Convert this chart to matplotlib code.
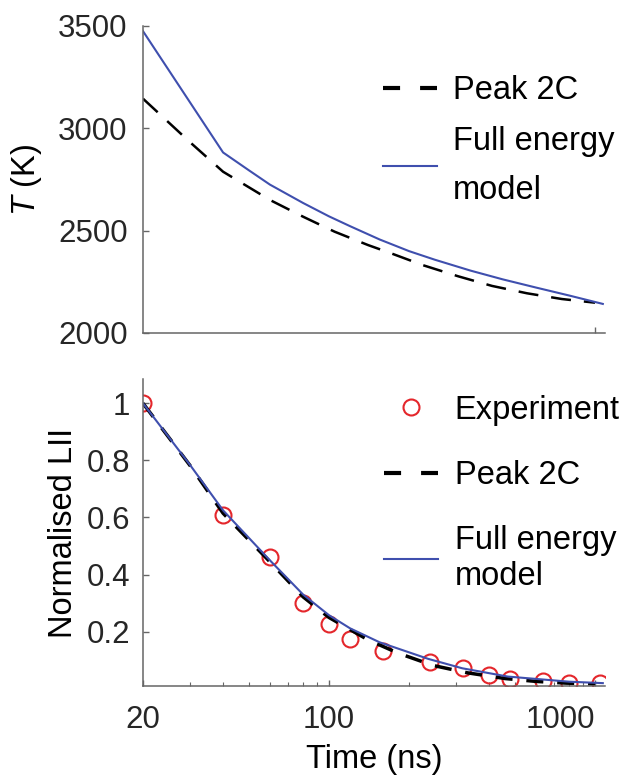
import matplotlib
matplotlib.use("Agg")
import matplotlib.pyplot as plt
from matplotlib.lines import Line2D
from matplotlib.ticker import FixedLocator, NullFormatter, NullLocator

# temperature traces (top panel)
t_full_T = [20, 40, 50, 60, 80, 100, 120, 155, 200, 250, 340, 450, 600, 800, 1070]
T_full = [3475, 2882, 2795, 2725, 2635, 2570, 2522, 2457, 2400, 2358, 2305, 2262, 2222, 2183, 2142]
t_peak_T = [20, 30, 40, 60, 80, 105, 140, 169, 226, 306, 410, 555, 750, 1000]
T_peak = [3145, 2933, 2788, 2650, 2568, 2495, 2430, 2392, 2331, 2277, 2230, 2194, 2166, 2148]

# normalised LII (bottom panel)
t_exp = [20, 40, 60, 80, 100, 120, 160, 240, 320, 400, 480, 640, 800, 1040]
lii_exp = [1.0, 0.61, 0.46, 0.30, 0.228, 0.175, 0.133, 0.094, 0.074, 0.048, 0.035, 0.026, 0.02, 0.02]
t_full_L = [20, 30, 40, 60, 80, 100, 120, 155, 236, 317, 470, 800, 1070]
lii_full = [1.0, 0.785, 0.625, 0.45, 0.33, 0.258, 0.212, 0.163, 0.105, 0.072, 0.043, 0.025, 0.02]
t_peak_L = [20, 30, 40, 60, 80, 100, 140, 182, 246, 332, 460, 600, 780, 1000]
lii_peak = [1.0, 0.783, 0.615, 0.445, 0.322, 0.25, 0.172, 0.125, 0.082, 0.056, 0.036, 0.026, 0.02, 0.017]

BLUE = "#3f4fae"
RED = "#e4262b"
SPINE = "#666666"

plt.rcParams["font.family"] = ["Liberation Sans", "DejaVu Sans"]
plt.rcParams["mathtext.fontset"] = "custom"
plt.rcParams["mathtext.it"] = "Liberation Sans:italic"
plt.rcParams["mathtext.rm"] = "Liberation Sans"

TICK_FS = 22.5
LAB_FS = 23.5

fig = plt.figure(figsize=(6.26, 7.76), dpi=100)
ax1 = fig.add_axes([0.2284, 0.5709, 0.738, 0.3956])
ax2 = fig.add_axes([0.2284, 0.116, 0.738, 0.3956])

for ax in (ax1, ax2):
    ax.set_xscale("log")
    ax.set_xlim(20, 1090)
    for s in ("top", "right"):
        ax.spines[s].set_visible(False)
    for s in ("left", "bottom"):
        ax.spines[s].set_color(SPINE)
        ax.spines[s].set_linewidth(1.1)
    ax.tick_params(which="both", direction="in", color=SPINE, labelsize=TICK_FS,
                   labelcolor="#262626")
    ax.tick_params(which="major", length=4, width=1)
    ax.tick_params(which="minor", length=3, width=0.8)

# top panel
ax1.plot(t_peak_T, T_peak, color="black", lw=1.8, ls=(0, (8, 5.2)))
ax1.plot(t_full_T, T_full, color=BLUE, lw=1.5)
ax1.set_ylim(2000, 3500)
ax1.set_yticks([2000, 2500, 3000, 3500])
ax1.xaxis.set_major_locator(FixedLocator([1000]))
ax1.xaxis.set_minor_locator(NullLocator())
ax1.xaxis.set_major_formatter(NullFormatter())
ax1.tick_params(axis="y", pad=11)
ax1.set_ylabel(r"$T$ (K)", fontsize=LAB_FS, labelpad=10)

peak_h = Line2D([], [], color="black", lw=3, ls=(0, (4.1, 4.8)))
full_h = Line2D([], [], color=BLUE, lw=1.5)
leg1 = ax1.legend([peak_h, full_h], ["Peak 2C", "Full energy\nmodel"], loc="upper left",
                  bbox_to_anchor=(0.519, 0.84), frameon=False, fontsize=LAB_FS,
                  borderpad=0, borderaxespad=0, handlelength=1.66, handletextpad=0.5,
                  labelspacing=0.6)
for t in leg1.get_texts():
    t.set_linespacing(1.75)

# bottom panel
ax2.plot(t_exp, lii_exp, ls="none", marker="o", ms=11.5, mfc="none", mec=RED, mew=1.5)
ax2.plot(t_peak_L, lii_peak, color="black", lw=2.5, ls=(0, (4.9, 4)))
ax2.plot(t_full_L, lii_full, color=BLUE, lw=1.5)
ax2.set_ylim(0.01, 1.085)
ax2.set_yticks([0.2, 0.4, 0.6, 0.8, 1.0])
ax2.set_yticklabels(["0.2", "0.4", "0.6", "0.8", "1"])
ax2.xaxis.set_major_locator(FixedLocator([20, 100, 1000]))
ax2.set_xticklabels(["20", "100", "1000"])
ax2.xaxis.set_minor_formatter(NullFormatter())
ax2.tick_params(axis="y", pad=9)
ax2.tick_params(axis="x", pad=14)
lab = ax2.get_xticklabels()[-1]
lab.set_horizontalalignment("right")
ax2.set_xlabel("Time (ns)", fontsize=LAB_FS, labelpad=6)
ax2.set_ylabel("Normalised LII", fontsize=LAB_FS, labelpad=6)

exp_h = Line2D([], [], ls="none", marker="o", ms=11.5, mfc="none", mec=RED, mew=1.5)
leg2 = ax2.legend([exp_h, peak_h, full_h], ["Experiment", "Peak 2C", "Full energy\nmodel"],
                  loc="upper left", bbox_to_anchor=(0.522, 0.949), frameon=False,
                  fontsize=LAB_FS, borderpad=0, borderaxespad=0, handlelength=1.66,
                  handletextpad=0.5, labelspacing=1.05)
for t in leg2.get_texts():
    t.set_linespacing(1.2)

fig.savefig("out.png", dpi=100)
